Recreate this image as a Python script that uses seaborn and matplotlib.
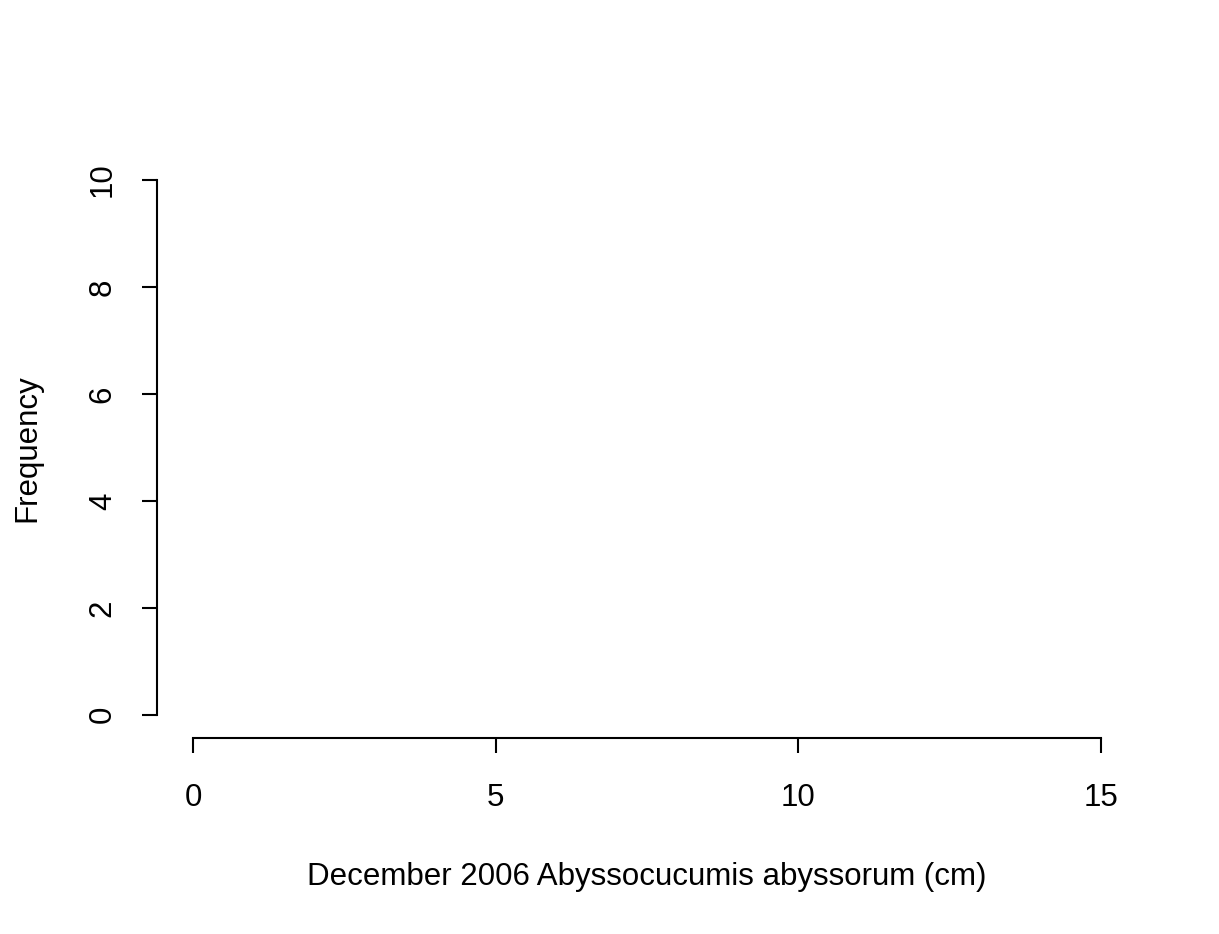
import numpy as np
import pandas as pd
import matplotlib
matplotlib.use("Agg")
import matplotlib.pyplot as plt
import seaborn as sns

# December 2006 sample: no animals measured, so the histogram is empty
lengths_cm = []
bin_edges = [0, 1, 2, 3, 4, 5, 6, 7, 8, 9, 10, 11, 12, 13, 14, 15]
x_ticks = [0, 5, 10, 15]
y_ticks = [0, 2, 4, 6, 8, 10]

sns.set_style("ticks")
plt.rcParams['font.family'] = ['Liberation Sans', 'DejaVu Sans']

fig = plt.figure(figsize=(12.19, 9.34), dpi=100)
ax = fig.add_axes([0.1286, 0.2095, 0.933 - 0.1286, 0.8302 - 0.2095])

df = pd.DataFrame({'length': pd.Series(lengths_cm, dtype=float)})
if len(df) > 0:
    sns.histplot(data=df, x='length', bins=bin_edges, color='white',
                 edgecolor='black', ax=ax)

ax.set_xlim(-0.6, 15.6)
ax.set_ylim(-0.44, 10.4)
ax.set_xticks(x_ticks)
ax.set_yticks(y_ticks)
ax.set_yticklabels([str(t) for t in y_ticks], rotation=90, va='center')

sns.despine(ax=ax)
ax.spines['left'].set_bounds(0, 10)
ax.spines['bottom'].set_bounds(0, 15)
for s in ['left', 'bottom']:
    ax.spines[s].set_linewidth(1.5)
    ax.spines[s].set_color('black')

fs = 22.5
ax.tick_params(axis='both', direction='out', length=10.5, width=1.5,
               colors='black', labelsize=fs)
ax.tick_params(axis='x', pad=22)
ax.tick_params(axis='y', pad=17.5)

ax.set_xlabel('December 2006 Abyssocucumis abyssorum (cm)', fontsize=fs,
              color='black', labelpad=35)
ax.set_ylabel('Frequency', fontsize=fs, color='black', labelpad=32.5)
ax.patch.set_alpha(0)

fig.savefig('out.png', dpi=100, facecolor='white')
